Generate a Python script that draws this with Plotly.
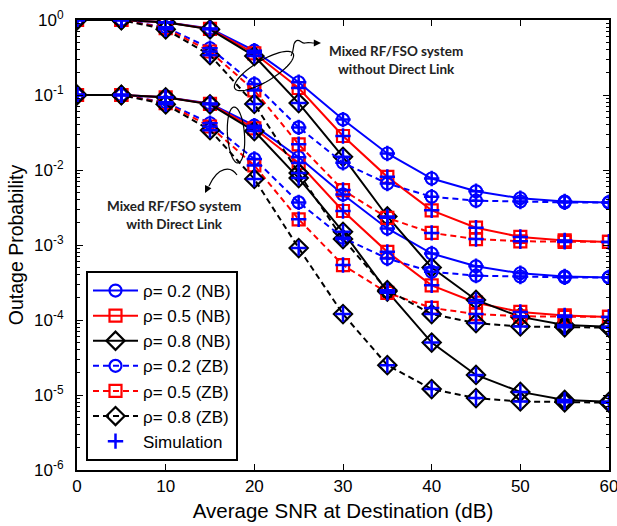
import numpy as np
import plotly.graph_objects as go

# Average SNR at destination (dB)
snr_db = [0, 5, 10, 15, 20, 25, 30, 35, 40, 45, 50, 55, 60]

# Mixed RF/FSO system without direct link
nb02_wo = [1.0, 1.0, 0.93, 0.77, 0.39, 0.148, 0.047, 0.0166, 0.0077, 0.0052, 0.0042, 0.0038, 0.0037]
nb05_wo = [1.0, 1.0, 0.93, 0.76, 0.36, 0.124, 0.0284, 0.0081, 0.0029, 0.0017, 0.00128, 0.00115, 0.0011]
nb08_wo = [1.0, 1.0, 0.93, 0.75, 0.33, 0.078, 0.0150, 0.0024, 5.0e-4, 1.85e-4, 1.1e-4, 8.6e-5, 8.1e-5]
zb02_wo = [1.0, 1.0, 0.80, 0.42, 0.14, 0.037, 0.0125, 0.0066, 0.0044, 0.0039, 0.0038, 0.0037, 0.0037]
zb05_wo = [1.0, 1.0, 0.78, 0.38, 0.115, 0.022, 0.0054, 0.0023, 0.00145, 0.0012, 0.00112, 0.0011, 0.0011]
zb08_wo = [1.0, 1.0, 0.75, 0.34, 0.076, 0.0091, 0.0012, 2.5e-4, 1.2e-4, 9.1e-5, 8.2e-5, 8.0e-5, 7.9e-5]

# Mixed RF/FSO system with direct link
nb02_w = [0.1, 0.1, 0.093, 0.077, 0.039, 0.0148, 0.0047, 0.00166, 7.7e-4, 5.2e-4, 4.2e-4, 3.8e-4, 3.7e-4]
nb05_w = [0.1, 0.1, 0.093, 0.076, 0.036, 0.0124, 0.00284, 8.1e-4, 2.9e-4, 1.7e-4, 1.28e-4, 1.15e-4, 1.1e-4]
nb08_w = [0.1, 0.1, 0.093, 0.075, 0.033, 0.0078, 0.0015, 2.4e-4, 5.0e-5, 1.85e-5, 1.1e-5, 8.6e-6, 8.1e-6]
zb02_w = [0.1, 0.1, 0.080, 0.042, 0.014, 0.0037, 0.00125, 6.6e-4, 4.4e-4, 3.9e-4, 3.8e-4, 3.7e-4, 3.7e-4]
zb05_w = [0.1, 0.1, 0.078, 0.038, 0.0115, 0.0022, 5.4e-4, 2.3e-4, 1.45e-4, 1.2e-4, 1.12e-4, 1.1e-4, 1.1e-4]
zb08_w = [0.1, 0.1, 0.075, 0.034, 0.0076, 9.1e-4, 1.2e-4, 2.5e-5, 1.2e-5, 9.1e-6, 8.2e-6, 8.0e-6, 7.9e-6]

# Axis ticks
x_ticks = [0, 10, 20, 30, 40, 50, 60]
y_exponents = [0, -1, -2, -3, -4, -5, -6]

series = [
    ("ρ= 0.2 (NB)", "#0000FF", "circle-open", "solid", nb02_wo, nb02_w),
    ("ρ= 0.5 (NB)", "#FF0000", "square-open", "solid", nb05_wo, nb05_w),
    ("ρ= 0.8 (NB)", "#000000", "diamond-open", "solid", nb08_wo, nb08_w),
    ("ρ= 0.2 (ZB)", "#0000FF", "circle-open", "6px,4px", zb02_wo, zb02_w),
    ("ρ= 0.5 (ZB)", "#FF0000", "square-open", "6px,4px", zb05_wo, zb05_w),
    ("ρ= 0.8 (ZB)", "#000000", "diamond-open", "6px,4px", zb08_wo, zb08_w),
]

W, H = 617, 526
L, R, T, B = 77, 8, 20, 56
PW, PH = W - L - R, H - T - B


def px(xp):
    return (xp - L) / PW


def py(yp):
    return (H - B - yp) / PH


FONT = "'Liberation Sans', Arial, Helvetica, sans-serif"
fig = go.Figure()

for name, color, symbol, dash, y_wo, y_w in series:
    for k, yy in enumerate((y_wo, y_w)):
        fig.add_trace(go.Scatter(
            x=snr_db, y=yy, mode="lines+markers", name=name,
            legendgroup=name, showlegend=(k == 0),
            line=dict(color=color, width=2, dash=dash),
            marker=dict(symbol=symbol, size=12 if "diamond" not in symbol else 14,
                        color=color, line=dict(color=color, width=2.2)),
        ))

# Monte-Carlo simulation points on every curve
sim_x, sim_y = [], []
for _, _, _, _, y_wo, y_w in series:
    sim_x += snr_db + snr_db
    sim_y += y_wo + y_w
fig.add_trace(go.Scatter(
    x=sim_x, y=sim_y, mode="markers", name="Simulation",
    marker=dict(symbol="cross-thin", size=11, color="#0000FF",
                line=dict(color="#0000FF", width=2.5)),
))


def ellipse_path(cx, cy, a, b, ang_deg, n=60):
    t = np.linspace(0, 2 * np.pi, n)
    th = np.radians(ang_deg)
    xs = cx + a * np.cos(t) * np.cos(th) - b * np.sin(t) * np.sin(th)
    ys = cy + a * np.cos(t) * np.sin(th) + b * np.sin(t) * np.cos(th)
    pts = [f"{px(x):.5f},{py(y):.5f}" for x, y in zip(xs, ys)]
    return "M" + " L".join(pts) + " Z"


def curve_path(points):
    # start point followed by groups of three cubic-bezier points (pixel space)
    s = f"M{px(points[0][0]):.5f},{py(points[0][1]):.5f}"
    rest = points[1:]
    for i in range(0, len(rest), 3):
        seg = rest[i:i + 3]
        s += " C" + " ".join(f"{px(x):.5f},{py(y):.5f}" for x, y in seg)
    return s


shape_line = dict(color="black", width=1.2)
fig.add_shape(type="path", xref="paper", yref="paper",
              path=ellipse_path(264, 71, 34, 10.5, -31), line=shape_line)
fig.add_shape(type="path", xref="paper", yref="paper",
              path=ellipse_path(236, 135, 28, 8.5, 86), line=shape_line)
fig.add_shape(type="path", xref="paper", yref="paper",
              path=curve_path([(291, 56), (295, 49), (292, 44), (296, 41),
                               (299, 38), (302, 44), (305, 43),
                               (308, 42), (311, 43), (314, 43)]),
              line=shape_line)
fig.add_shape(type="path", xref="paper", yref="paper",
              path=curve_path([(237, 175), (231, 166), (218, 166), (209, 186)]),
              line=shape_line)

fig.add_annotation(x=px(321), y=py(43), xref="paper", yref="paper", text="",
                   showarrow=True, arrowhead=2, arrowsize=1.2, arrowwidth=1.2,
                   arrowcolor="black", ax=-8, ay=0)
fig.add_annotation(x=px(205), y=py(193), xref="paper", yref="paper", text="",
                   showarrow=True, arrowhead=2, arrowsize=1.2, arrowwidth=1.2,
                   arrowcolor="black", ax=4, ay=-8)

label_font = dict(family="Lato, 'Noto Sans', sans-serif", size=13.5, color="#222222")
fig.add_annotation(x=px(396), y=py(60), xref="paper", yref="paper",
                   xanchor="center", yanchor="middle",
                   text="<b>Mixed RF/FSO system<br>without Direct Link</b>",
                   showarrow=False, font=label_font, align="center")
fig.add_annotation(x=px(174), y=py(215), xref="paper", yref="paper",
                   xanchor="center", yanchor="middle",
                   text="<b>Mixed RF/FSO system<br>with Direct Link</b>",
                   showarrow=False, font=label_font, align="center")

axis_common = dict(showline=True, linecolor="black", linewidth=2, mirror="allticks",
                   ticks="inside", tickcolor="black", tickwidth=1, showgrid=False,
                   zeroline=False, ticklabeloverflow="allow",
                   tickfont=dict(family=FONT, size=17, color="black"))

minor_vals = [m * 10.0 ** e for e in range(-6, 0) for m in range(2, 10)]

fig.update_xaxes(range=[0, 60], tickvals=x_ticks, ticklen=6,
                 title=dict(text="Average SNR at Destination (dB)",
                            font=dict(family=FONT, size=20.5, color="black"), standoff=8),
                 **axis_common)
fig.update_yaxes(type="log", range=[-6, 0], tickmode="array",
                 tickvals=[10.0 ** e for e in y_exponents],
                 ticktext=[f"10<sup>{e}</sup>" for e in y_exponents], ticklen=6,
                 ticklabelstandoff=8,
                 minor=dict(ticks="inside", ticklen=3, tickmode="array", tickvals=minor_vals,
                            tickcolor="black", tickwidth=1, showgrid=False),
                 title=dict(text="Outage Probability",
                            font=dict(family=FONT, size=19.5, color="black"), standoff=5),
                 **axis_common)

fig.update_layout(
    width=W, height=H, autosize=False,
    margin=dict(l=L, r=R, t=T, b=B, autoexpand=False),
    paper_bgcolor="white", plot_bgcolor="white",
    legend=dict(x=px(86), y=py(461), xanchor="left", yanchor="bottom",
                bgcolor="white", bordercolor="black", borderwidth=2,
                font=dict(family=FONT, size=17, color="black"), itemwidth=45,
                tracegroupgap=0),
)

fig.write_html("out.html")
